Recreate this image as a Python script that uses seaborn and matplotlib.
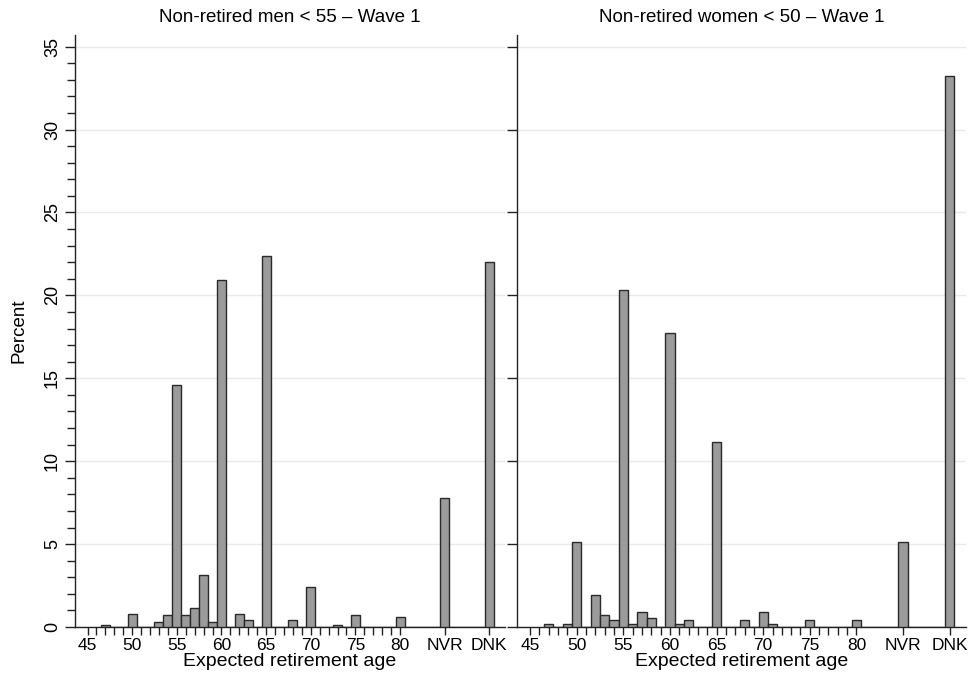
import numpy as np
import pandas as pd
import seaborn as sns
import matplotlib.pyplot as plt
from matplotlib.ticker import MultipleLocator, FixedLocator

# Expected retirement age distribution (percent), wave 1
men_ages = [47, 50, 53, 54, 55, 56, 57, 58, 59, 60, 62, 63, 65, 68, 70, 73, 75, 80, "NVR", "DNK"]
men_pct = [0.1, 0.8, 0.3, 0.7, 14.6, 0.7, 1.15, 3.15, 0.3, 20.95, 0.8, 0.4, 22.4, 0.4, 2.4, 0.1, 0.7, 0.6, 7.75, 22.0]

women_ages = [47, 49, 50, 52, 53, 54, 55, 56, 57, 58, 60, 61, 62, 65, 68, 70, 71, 75, 80, "NVR", "DNK"]
women_pct = [0.2, 0.2, 5.1, 1.9, 0.7, 0.4, 20.35, 0.2, 0.9, 0.55, 17.7, 0.2, 0.4, 11.15, 0.4, 0.9, 0.2, 0.4, 0.4, 5.1, 33.2]

titles = ["Non-retired men < 55 \u2013 Wave 1", "Non-retired women < 50 \u2013 Wave 1"]
tick_labels = ["45", "50", "55", "60", "65", "70", "75", "80", "NVR", "DNK"]

# where the non-numeric answers sit on the axis
special_pos = {"NVR": 85, "DNK": 90}
major_pos = [45, 50, 55, 60, 65, 70, 75, 80, 85, 90]

sns.set_style("ticks")
plt.rcParams['font.family'] = ['Liberation Sans', 'DejaVu Sans']
plt.rcParams['text.color'] = 'black'
plt.rcParams['axes.labelcolor'] = 'black'
plt.rcParams['xtick.color'] = '#222222'
plt.rcParams['ytick.color'] = '#222222'

fig = plt.figure(figsize=(9.73, 6.76), dpi=100)
ax1 = fig.add_axes([75 / 973, 49 / 676, 430 / 973, 592 / 676])
ax2 = fig.add_axes([517 / 973, 49 / 676, 449 / 973, 592 / 676])


def to_pos(a):
    return special_pos.get(a, a) if isinstance(a, str) else a


for ax, ages, pct, title in [(ax1, men_ages, men_pct, titles[0]),
                             (ax2, women_ages, women_pct, titles[1])]:
    df = pd.DataFrame({"age": [to_pos(a) for a in ages], "pct": pct})
    sns.histplot(data=df, x="age", weights="pct", discrete=True, ax=ax,
                 color="#9b9b9b", edgecolor="#2a2a2a", linewidth=1.0, alpha=1, zorder=3)
    ax.set_xlim(43.6, 91.75)
    ax.set_ylim(0, 35.7)
    ax.set_title(title, fontsize=13.5, pad=9)
    ax.set_xlabel("Expected retirement age", fontsize=14, labelpad=0)
    ax.xaxis.set_major_locator(FixedLocator(major_pos))
    ax.set_xticklabels(tick_labels)
    ax.xaxis.set_minor_locator(FixedLocator([v for v in range(45, 81) if v % 5]))
    ax.yaxis.set_major_locator(MultipleLocator(5))
    ax.grid(axis="y", color="#eaeaea", linewidth=1.0, zorder=0)
    ax.set_axisbelow(True)
    for s in ["top", "right"]:
        ax.spines[s].set_visible(False)
    for s in ["left", "bottom"]:
        ax.spines[s].set_color("#222222")
        ax.spines[s].set_linewidth(1.0)
    ax.tick_params(axis="both", which="both", direction="out", length=6, width=1,
                   bottom=True, left=True, labelsize=12.5, pad=2, labelcolor="black")

ax1.yaxis.set_minor_locator(MultipleLocator(1))
ax1.tick_params(axis="y", length=7, pad=3)
ax1.set_ylabel("Percent", fontsize=13.5, labelpad=12)
ax1.tick_params(axis="y", labelrotation=90, labelsize=13)
for lab in ax1.get_yticklabels():
    lab.set_va("center")

ax2.set_ylabel("")
ax2.tick_params(axis="y", labelleft=False, length=7)

fig.savefig("out.png", dpi=100, facecolor="white")
